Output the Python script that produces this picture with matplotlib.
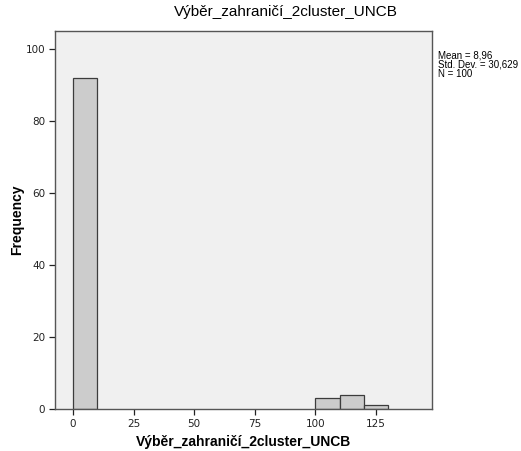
import matplotlib.pyplot as plt

bin_left = [0, 100, 110, 120]
counts = [92, 3, 4, 1]
bin_width = 10
x_ticks = [0, 25, 50, 75, 100, 125]
y_ticks = [0, 20, 40, 60, 80, 100]
title = 'Výběr_zahraničí_2cluster_UNCB'
stats = 'Mean = 8,96\nStd. Dev. = 30,629\nN = 100'

fig = plt.figure(figsize=(5.21, 4.51), dpi=100)
ax = fig.add_axes([0.1056, 0.0931, 0.7236, 0.8382])
ax.set_facecolor('#f0f0f0')

ax.bar(bin_left, counts, width=bin_width, align='edge',
       color='#cccccc', edgecolor='#3c3c3c', linewidth=0.9)

ax.set_xlim(-7.4, 148.1)
ax.set_ylim(0, 105)
ax.set_xticks(x_ticks)
ax.set_yticks(y_ticks)
ax.tick_params(labelsize=7.5, colors='#222222', length=4, width=0.9, pad=3)
for s in ax.spines.values():
    s.set_color('#555555')
    s.set_linewidth(1.0)

ax.set_xlabel(title, fontsize=10, fontweight='bold', family='Liberation Sans', va='center')
ax.set_ylabel('Frequency', fontsize=10, fontweight='bold', family='Liberation Sans', va='center')
ax.xaxis.set_label_coords(0.5, -(442 - 409) / 378)
ax.yaxis.set_label_coords((17 - 55) / 377, 0.5)
fig.text(286 / 521, 1 - 12 / 451, title, ha='center', va='center',
         fontsize=11, family='Liberation Sans')
fig.text(438 / 521, 1 - 50 / 451, stats, ha='left', va='top',
         fontsize=7, family='Liberation Sans', linespacing=0.95)

fig.savefig('out.png', dpi=100)
